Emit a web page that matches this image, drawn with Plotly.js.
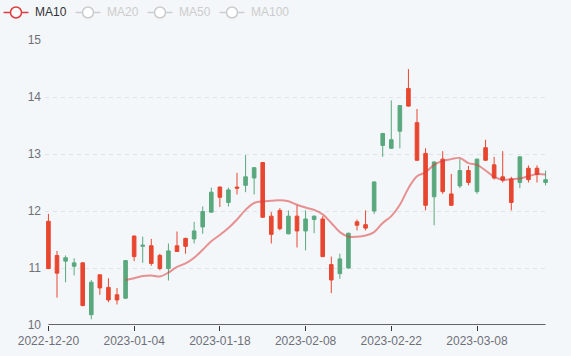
<!DOCTYPE html>
<html>
<head>
<meta charset="utf-8">
<script src="https://cdn.plot.ly/plotly-3.0.1.min.js"></script>
<style>
  html, body { margin: 0; padding: 0; background: #f4f7fa; }
  #chart { width: 571px; height: 356px; }
</style>
</head>
<body>
<div id="chart"></div>
<script>
const dates = [
  '2022-12-20','2022-12-21','2022-12-22','2022-12-23','2022-12-26','2022-12-27','2022-12-28','2022-12-29','2022-12-30',
  '2023-01-03','2023-01-04','2023-01-05','2023-01-06','2023-01-09','2023-01-10','2023-01-11','2023-01-12','2023-01-13',
  '2023-01-16','2023-01-17','2023-01-18','2023-01-19','2023-01-20','2023-01-30','2023-01-31','2023-02-01','2023-02-02',
  '2023-02-03','2023-02-06','2023-02-07','2023-02-08','2023-02-09','2023-02-10','2023-02-13','2023-02-14','2023-02-15',
  '2023-02-16','2023-02-17','2023-02-20','2023-02-21','2023-02-22','2023-02-23','2023-02-24','2023-02-27','2023-02-28',
  '2023-03-01','2023-03-02','2023-03-03','2023-03-06','2023-03-07','2023-03-08','2023-03-09','2023-03-10','2023-03-13',
  '2023-03-14','2023-03-15','2023-03-16','2023-03-17','2023-03-20'
];
const openPrices = [
  11.82,11.22,11.12,11.03,11.09,10.18,10.88,10.66,10.53,10.47,11.56,11.38,11.39,11.22,10.99,11.39,11.52,11.51,11.72,11.98,
  12.42,12.15,12.42,12.45,12.58,12.85,11.91,12.01,11.60,11.91,11.65,11.85,11.86,11.06,10.90,11.00,11.81,11.76,12.00,13.15,
  13.10,13.40,14.15,13.55,13.01,12.25,12.91,12.30,12.44,12.71,12.34,13.11,12.81,12.60,12.56,12.50,12.75,12.75,12.50
];
const highPrices = [
  11.95,11.30,11.22,11.17,11.10,10.79,10.89,10.82,10.65,11.14,11.57,11.55,11.51,11.25,11.43,11.64,11.53,11.81,12.08,12.41,
  12.43,12.41,12.67,12.98,12.77,12.86,11.98,12.05,12.01,12.10,12.01,11.92,11.91,11.20,11.25,11.62,11.85,12.01,12.52,13.37,
  13.94,13.86,14.49,13.79,13.10,12.87,13.05,12.65,12.91,12.79,12.92,13.25,12.95,13.05,12.60,12.96,12.80,12.80,12.71
];
const lowPrices = [
  10.98,10.48,10.75,10.87,10.33,10.10,10.53,10.40,10.36,10.46,11.12,11.09,11.04,10.96,10.78,11.28,11.25,11.43,11.60,11.97,
  12.07,12.08,12.29,12.33,12.29,11.88,11.43,11.66,11.59,11.36,11.31,11.61,11.19,10.56,10.81,10.99,11.66,11.66,11.95,12.95,
  13.09,13.10,13.83,12.88,12.01,11.75,12.30,12.09,12.40,12.45,12.30,12.88,12.55,12.50,12.01,12.40,12.50,12.50,12.45
];
const closePrices = [
  10.99,10.91,11.18,11.09,10.34,10.75,10.65,10.44,10.44,11.13,11.20,11.40,11.08,10.99,11.30,11.29,11.38,11.65,11.99,12.33,
  12.24,12.37,12.40,12.60,12.76,11.89,11.59,11.69,11.91,11.65,11.86,11.91,11.20,10.79,11.16,11.61,11.75,11.70,12.51,13.36,
  13.25,13.85,13.84,12.89,12.10,12.86,12.34,12.10,12.71,12.50,12.91,12.89,12.58,12.54,12.15,12.95,12.55,12.64,12.55
];
const ma10 = [
  null,null,null,null,null,null,null,null,null,
  10.79,10.82,10.86,10.87,10.85,10.92,11.02,11.08,11.18,11.32,11.47,
  11.58,11.70,11.85,12.02,12.14,12.17,12.18,12.19,12.17,12.11,
  12.06,12.02,11.94,11.79,11.63,11.55,11.55,11.57,11.63,11.79,
  11.91,12.11,12.40,12.61,12.68,12.81,12.88,12.91,12.93,12.84,
  12.81,12.71,12.60,12.55,12.56,12.57,12.61,12.65,12.64
];
const tickDates = ['2022-12-20','2023-01-04','2023-01-18','2023-02-08','2023-02-22','2023-03-08'];
const yTicks = [10, 11, 12, 13, 14, 15];
const legendNames = ['MA10', 'MA20', 'MA50', 'MA100'];
const legendActive = [true, false, false, false];

const UP = '#5aa87e', DOWN = '#e8462f';
const FONT = 'Liberation Sans, Arial, sans-serif';
const W = 571, H = 356, L = 45, R = 22, T = 40, B = 31;
const px2x = px => (px - L) / (W - L - R);
const py2y = py => (H - B - py) / (H - T - B);

const traces = [
  {
    type: 'candlestick', x: dates,
    open: openPrices, high: highPrices, low: lowPrices, close: closePrices,
    increasing: { line: { color: UP, width: 1 }, fillcolor: UP },
    decreasing: { line: { color: DOWN, width: 1 }, fillcolor: DOWN },
    showlegend: false, hoverinfo: 'skip'
  },
  {
    type: 'scatter', mode: 'lines', x: dates, y: ma10, name: legendNames[0],
    line: { color: 'rgba(221,60,60,0.55)', width: 2, shape: 'spline', smoothing: 1 },
    showlegend: false, hoverinfo: 'skip'
  }
];

const shapes = [{
  type: 'line', xref: 'x', yref: 'y',
  x0: dates[0], x1: dates[dates.length - 1], y0: yTicks[0], y1: yTicks[0],
  line: { color: '#333333', width: 1.5 }, layer: 'above'
}];
const annotations = [];
const legY = 12.5;
legendNames.forEach((n, i) => {
  const x0 = 3.5 + 72 * i;
  const c = legendActive[i] ? '#dd3b3b' : '#cccccc';
  shapes.push({
    type: 'line', xref: 'paper', yref: 'paper',
    x0: px2x(x0), x1: px2x(x0 + 25), y0: py2y(legY), y1: py2y(legY),
    line: { color: c, width: 1.5 }, layer: 'above'
  });
  shapes.push({
    type: 'circle', xref: 'paper', yref: 'paper',
    x0: px2x(x0 + 12.5 - 5.5), x1: px2x(x0 + 12.5 + 5.5),
    y0: py2y(legY + 5.5), y1: py2y(legY - 5.5),
    fillcolor: '#ffffff', line: { color: c, width: 1.5 }, layer: 'above'
  });
  annotations.push({
    xref: 'paper', yref: 'paper', x: px2x(x0 + 29.5), y: py2y(legY),
    xanchor: 'left', yanchor: 'middle', showarrow: false, text: n,
    font: { family: FONT, size: 12, color: legendActive[i] ? '#333333' : '#cccccc' }
  });
});

const layout = {
  width: W, height: H,
  paper_bgcolor: '#f4f7fa', plot_bgcolor: '#f4f7fa',
  margin: { l: L, r: R, t: T, b: B, pad: 0 },
  font: { family: FONT, size: 12, color: '#6e7079' },
  boxgap: 0.4,
  showlegend: false,
  xaxis: {
    type: 'category', range: [-0.4, dates.length - 1 + 0.4], automargin: false,
    rangeslider: { visible: false },
    showgrid: false, showline: false, zeroline: false,
    tickmode: 'array', tickvals: tickDates, ticktext: tickDates,
    ticks: 'outside', ticklen: 5, tickcolor: '#333333', tickwidth: 1,
    tickfont: { family: FONT, size: 12, color: '#6e7079' },
    fixedrange: true
  },
  yaxis: {
    range: [10, 15], automargin: false, tickmode: 'array', tickvals: yTicks, ticktext: yTicks.map(String),
    showgrid: true, gridcolor: '#dfe3ea', griddash: '4px,4px', gridwidth: 1,
    zeroline: false, showline: false, ticks: '',
    ticklabelstandoff: 3,
    tickfont: { family: FONT, size: 12, color: '#6e7079' },
    fixedrange: true
  },
  shapes: shapes,
  annotations: annotations
};

Plotly.newPlot('chart', traces, layout, { displayModeBar: false, staticPlot: true });
</script>
</body>
</html>
